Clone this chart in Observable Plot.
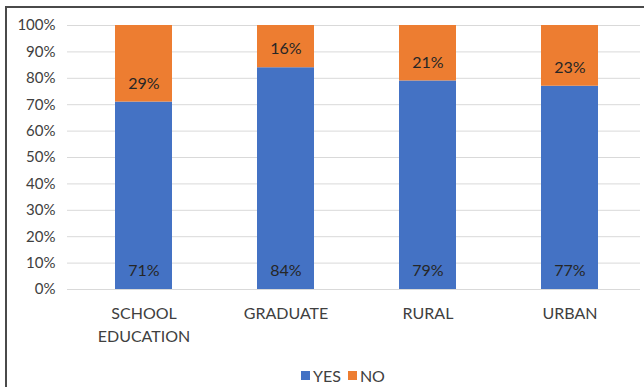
<!DOCTYPE html>
<html>
<head>
<meta charset="utf-8">
<script src="https://cdn.jsdelivr.net/npm/d3@7"></script>
<script src="https://cdn.jsdelivr.net/npm/@observablehq/plot@0.6"></script>
<style>
  body { margin: 0; background: #fff; }
  #wrap { position: relative; width: 644px; height: 387px; overflow: hidden; background: #fff; font-family: Lato, "Liberation Sans", sans-serif; }
  #mask { position: absolute; left: 0; top: 0; width: 5px; height: 387px; background: #fff; }
  #border { position: absolute; left: 5px; top: 6px; width: 700px; height: 500px; border-left: 2px solid #4a4a4a; border-top: 2px solid #4a4a4a; pointer-events: none; }
  #chart { position: absolute; left: 0; top: 0; }
  #legend { position: absolute; left: 301px; top: 364px; height: 22px; display: flex; align-items: center; font-size: 16px; color: #404040; }
  .sw { width: 9px; height: 9px; display: inline-block; margin-right: 3px; }
  .item { display: flex; align-items: center; margin-right: 7px; }
</style>
</head>
<body>
<div id="wrap">
  <div id="chart"></div>
  <div id="mask"></div>
  <div id="border"></div>
  <div id="legend"></div>
</div>
<script>
const categories = ["SCHOOL EDUCATION", "GRADUATE", "RURAL", "URBAN"];
const yesValues = [71, 84, 79, 77];
const noValues = [29, 16, 21, 23];
const series = ["YES", "NO"];
const colors = ["#4472C4", "#ED7D31"];
const yTicks = [0, 10, 20, 30, 40, 50, 60, 70, 80, 90, 100];
const xLabels = ["SCHOOL\nEDUCATION", "GRADUATE", "RURAL", "URBAN"];

const rows = categories.flatMap((c, i) => [
  {category: c, answer: series[0], value: yesValues[i]},
  {category: c, answer: series[1], value: noValues[i]}
]);

const axisFrame = (index, scales, values, dims) => {
  const x = scales.x, y = scales.y;
  const bw = x.bandwidth || 0;
  const step = x(categories[1]) - x(categories[0]);
  const bounds = categories.map(c => x(c) + bw / 2 - step / 2);
  bounds.push(bounds[bounds.length - 1] + step);
  const g = d3.create("svg:g").attr("stroke", "#bfbfbf").attr("stroke-width", 1.2).attr("fill", "none");
  const y0 = y(0), y1 = y(100);
  g.append("line").attr("x1", bounds[0]).attr("x2", bounds[bounds.length - 1]).attr("y1", y0).attr("y2", y0);
  g.append("line").attr("x1", bounds[0]).attr("x2", bounds[0]).attr("y1", y0).attr("y2", y1);
  bounds.forEach(b => g.append("line").attr("x1", b).attr("x2", b).attr("y1", y0).attr("y2", y0 + 5));
  return g.node();
};

const chart = Plot.plot({
  width: 644,
  height: 358,
  marginLeft: 72,
  marginRight: 4,
  marginTop: 25,
  marginBottom: 69,
  style: {fontFamily: "Lato, 'Liberation Sans', sans-serif", fontSize: "15px", color: "#404040", background: "transparent"},
  x: {domain: categories, paddingInner: 0.6, paddingOuter: 0.3, label: null},
  y: {domain: [0, 100], label: null},
  color: {domain: series, range: colors},
  marks: [
    Plot.gridY(yTicks, {stroke: "#d9d9d9", strokeOpacity: 1}),
    Plot.axisY(yTicks, {tickSize: 5, tickPadding: 12, stroke: "#d9d9d9", strokeOpacity: 1, fill: "#404040", tickFormat: d => d + "%", label: null, fontSize: 15}),
    Plot.barY(rows, Plot.stackY({x: "category", y: "value", fill: "answer", order: series})),
    Plot.text(rows, Plot.stackY1({x: "category", y: "value", z: "answer", order: series, text: d => d.value + "%", dy: -18.5, fill: "#262626", fontSize: 16})),
    axisFrame,
    Plot.axisX({tickSize: 0, tickPadding: 14, lineHeight: 1.4, fill: "#404040", tickFormat: d => xLabels[categories.indexOf(d)], label: null, fontSize: 16})
  ]
});
document.getElementById("chart").appendChild(chart);

const legend = document.getElementById("legend");
series.forEach((s, i) => {
  const item = document.createElement("span");
  item.className = "item";
  const sw = document.createElement("span");
  sw.className = "sw";
  sw.style.background = colors[i];
  item.appendChild(sw);
  item.appendChild(document.createTextNode(s));
  legend.appendChild(item);
});
</script>
</body>
</html>
